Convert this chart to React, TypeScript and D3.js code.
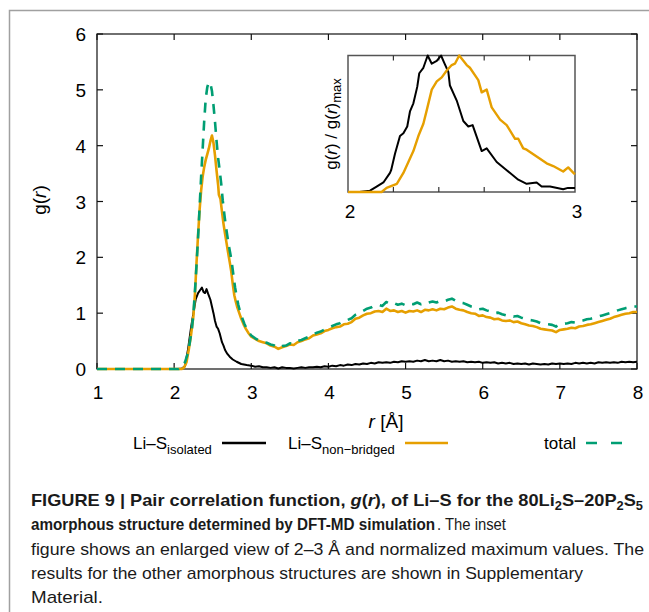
import React from 'react';
import * as d3 from 'd3';

type P = [number, number];

const xTicks = [1, 2, 3, 4, 5, 6, 7, 8];
const yTicks = [0, 1, 2, 3, 4, 5, 6];
const insetTicks = [2.2, 2.4, 2.6, 2.8];
const insetLabels = [2, 3];

const isolated: P[] = [
  [1.0, 0], [2.05, 0], [2.1, 0.01], [2.14, 0.05], [2.18, 0.35], [2.22, 0.75], [2.25, 1.0], [2.28, 1.25],
  [2.31, 1.36], [2.34, 1.42], [2.36, 1.46], [2.38, 1.38], [2.4, 1.36], [2.42, 1.43], [2.44, 1.35], [2.47, 1.24],
  [2.49, 1.12], [2.51, 1.0], [2.53, 0.86], [2.55, 0.76], [2.57, 0.72], [2.59, 0.64], [2.62, 0.48], [2.64, 0.42],
  [2.66, 0.34], [2.69, 0.27], [2.72, 0.22], [2.76, 0.17], [2.81, 0.13], [2.87, 0.09], [2.94, 0.07], [3.0, 0.06],
  [3.05, 0.04], [3.1, 0.05], [3.15, 0.03], [3.2, 0.03], [3.25, 0.02], [3.3, 0.03], [3.35, 0.01], [3.4, 0.03],
  [3.45, 0.02], [3.5, 0.02], [3.55, 0.01], [3.6, 0.02], [3.65, 0.03], [3.7, 0.02], [3.75, 0.03], [3.8, 0.03],
  [3.85, 0.04], [3.9, 0.03], [3.95, 0.05], [4.0, 0.04], [4.05, 0.06], [4.1, 0.05], [4.15, 0.07], [4.2, 0.06],
  [4.25, 0.08], [4.3, 0.07], [4.35, 0.09], [4.4, 0.08], [4.45, 0.10], [4.5, 0.09], [4.55, 0.11], [4.6, 0.10],
  [4.65, 0.12], [4.7, 0.11], [4.75, 0.12], [4.8, 0.11], [4.85, 0.13], [4.9, 0.12], [4.95, 0.14], [5.0, 0.13],
  [5.05, 0.14], [5.1, 0.13], [5.15, 0.15], [5.2, 0.14], [5.25, 0.16], [5.3, 0.14], [5.35, 0.15], [5.4, 0.14],
  [5.45, 0.16], [5.5, 0.14], [5.55, 0.15], [5.6, 0.13], [5.65, 0.14], [5.7, 0.13], [5.75, 0.14], [5.8, 0.12],
  [5.85, 0.13], [5.9, 0.12], [5.95, 0.13], [6.0, 0.11], [6.05, 0.12], [6.1, 0.11], [6.15, 0.12], [6.2, 0.10],
  [6.25, 0.11], [6.3, 0.10], [6.35, 0.11], [6.4, 0.09], [6.45, 0.10], [6.5, 0.09], [6.55, 0.10], [6.6, 0.08],
  [6.65, 0.10], [6.7, 0.09], [6.75, 0.08], [6.8, 0.09], [6.85, 0.08], [6.9, 0.10], [6.95, 0.09], [7.0, 0.10],
  [7.05, 0.09], [7.1, 0.10], [7.15, 0.09], [7.2, 0.11], [7.25, 0.10], [7.3, 0.11], [7.35, 0.10], [7.4, 0.11],
  [7.45, 0.10], [7.5, 0.12], [7.55, 0.11], [7.6, 0.12], [7.65, 0.11], [7.7, 0.12], [7.75, 0.11], [7.8, 0.13],
  [7.85, 0.12], [7.9, 0.13], [7.95, 0.12], [8.0, 0.13],
];

const nonBridged: P[] = [
  [1.0, 0], [2.1, 0], [2.13, 0.03], [2.16, 0.12], [2.19, 0.35], [2.22, 0.62], [2.25, 0.95], [2.27, 1.35],
  [2.29, 1.9], [2.31, 2.4], [2.33, 2.85], [2.35, 3.2], [2.37, 3.45], [2.39, 3.62], [2.41, 3.75], [2.43, 3.85],
  [2.45, 3.95], [2.47, 4.08], [2.49, 4.18], [2.51, 4.05], [2.53, 3.82], [2.55, 3.55], [2.57, 3.3], [2.58, 3.12],
  [2.6, 3.05], [2.62, 2.82], [2.64, 2.6], [2.66, 2.42], [2.68, 2.25], [2.7, 2.08], [2.72, 1.92], [2.74, 1.75],
  [2.76, 1.52], [2.78, 1.32], [2.8, 1.2], [2.82, 1.1], [2.84, 1.02], [2.87, 0.9], [2.9, 0.8], [2.93, 0.72],
  [2.96, 0.65], [3.0, 0.58],
  [3.05, 0.54], [3.1, 0.50], [3.15, 0.48], [3.2, 0.46], [3.25, 0.42], [3.3, 0.40], [3.35, 0.36], [3.4, 0.39],
  [3.45, 0.41], [3.5, 0.44], [3.55, 0.43], [3.6, 0.48], [3.65, 0.50], [3.7, 0.53], [3.75, 0.55], [3.8, 0.60],
  [3.85, 0.62], [3.9, 0.64], [3.95, 0.68], [4.0, 0.70], [4.05, 0.73], [4.1, 0.75], [4.15, 0.76], [4.2, 0.80],
  [4.25, 0.81], [4.3, 0.84], [4.35, 0.90], [4.4, 0.92], [4.45, 0.96], [4.5, 0.99], [4.55, 1.00], [4.6, 1.03],
  [4.65, 1.04], [4.7, 1.02], [4.75, 1.08], [4.8, 1.04], [4.85, 1.05], [4.9, 1.02], [4.95, 1.04], [5.0, 1.01],
  [5.05, 1.04], [5.1, 1.03], [5.15, 1.05], [5.2, 1.02], [5.25, 1.06], [5.3, 1.05], [5.35, 1.07], [5.4, 1.05],
  [5.45, 1.08], [5.5, 1.07], [5.55, 1.10], [5.6, 1.12], [5.65, 1.08], [5.7, 1.06], [5.75, 1.05], [5.8, 1.02],
  [5.85, 1.00], [5.9, 0.99], [5.95, 0.95], [6.0, 0.96], [6.05, 0.93], [6.1, 0.92], [6.15, 0.89], [6.2, 0.90],
  [6.25, 0.87], [6.3, 0.86], [6.35, 0.87], [6.4, 0.84], [6.45, 0.85], [6.5, 0.82], [6.55, 0.80], [6.6, 0.78],
  [6.65, 0.77], [6.7, 0.75], [6.75, 0.72], [6.8, 0.71], [6.85, 0.70], [6.9, 0.69], [6.95, 0.66], [7.0, 0.70],
  [7.05, 0.71], [7.1, 0.72], [7.15, 0.74], [7.2, 0.73], [7.25, 0.76], [7.3, 0.77], [7.35, 0.79], [7.4, 0.80],
  [7.45, 0.82], [7.5, 0.84], [7.55, 0.86], [7.6, 0.88], [7.65, 0.90], [7.7, 0.93], [7.75, 0.95], [7.8, 0.97],
  [7.85, 0.99], [7.9, 1.00], [7.95, 1.02], [8.0, 1.02],
];

const total: P[] = [
  [1.0, 0], [2.06, 0], [2.1, 0.03], [2.14, 0.12], [2.17, 0.25], [2.2, 0.45], [2.23, 0.72], [2.25, 1.0],
  [2.27, 1.4], [2.29, 1.85], [2.31, 2.35], [2.33, 2.9], [2.35, 3.45], [2.37, 3.95], [2.39, 4.45], [2.41, 4.85],
  [2.43, 5.05], [2.45, 5.14], [2.47, 5.12], [2.49, 4.98], [2.51, 4.72], [2.53, 4.42], [2.55, 4.08], [2.57, 3.78],
  [2.59, 3.56], [2.61, 3.32], [2.63, 3.02], [2.65, 2.78], [2.67, 2.56], [2.69, 2.38], [2.71, 2.2], [2.73, 2.05],
  [2.75, 1.88], [2.77, 1.66], [2.79, 1.46], [2.81, 1.3], [2.83, 1.16], [2.85, 1.05], [2.88, 0.92], [2.91, 0.81],
  [2.94, 0.72], [2.97, 0.65], [3.0, 0.6],
  [3.05, 0.55], [3.1, 0.51], [3.15, 0.49], [3.2, 0.47], [3.25, 0.44], [3.3, 0.42], [3.35, 0.38], [3.4, 0.41],
  [3.45, 0.42], [3.5, 0.46], [3.55, 0.45], [3.6, 0.50], [3.65, 0.52], [3.7, 0.55], [3.75, 0.58], [3.8, 0.62],
  [3.85, 0.65], [3.9, 0.67], [3.95, 0.71], [4.0, 0.74], [4.05, 0.77], [4.1, 0.80], [4.15, 0.82], [4.2, 0.86],
  [4.25, 0.88], [4.3, 0.91], [4.35, 0.97], [4.4, 1.00], [4.45, 1.04], [4.5, 1.08], [4.55, 1.10], [4.6, 1.14],
  [4.65, 1.15], [4.7, 1.13], [4.75, 1.20], [4.8, 1.16], [4.85, 1.18], [4.9, 1.15], [4.95, 1.17], [5.0, 1.14],
  [5.05, 1.17], [5.1, 1.16], [5.15, 1.19], [5.2, 1.16], [5.25, 1.20], [5.3, 1.19], [5.35, 1.21], [5.4, 1.19],
  [5.45, 1.22], [5.5, 1.21], [5.55, 1.24], [5.6, 1.26], [5.65, 1.22], [5.7, 1.19], [5.75, 1.18], [5.8, 1.15],
  [5.85, 1.12], [5.9, 1.11], [5.95, 1.07], [6.0, 1.08], [6.05, 1.05], [6.1, 1.03], [6.15, 1.00], [6.2, 1.01],
  [6.25, 0.98], [6.3, 0.96], [6.35, 0.97], [6.4, 0.94], [6.45, 0.95], [6.5, 0.92], [6.55, 0.90], [6.6, 0.88],
  [6.65, 0.87], [6.7, 0.85], [6.75, 0.82], [6.8, 0.81], [6.85, 0.80], [6.9, 0.79], [6.95, 0.76], [7.0, 0.80],
  [7.05, 0.81], [7.1, 0.82], [7.15, 0.84], [7.2, 0.83], [7.25, 0.86], [7.3, 0.87], [7.35, 0.89], [7.4, 0.90],
  [7.45, 0.92], [7.5, 0.94], [7.55, 0.96], [7.6, 0.98], [7.65, 1.00], [7.7, 1.03], [7.75, 1.05], [7.8, 1.07],
  [7.85, 1.09], [7.9, 1.10], [7.95, 1.12], [8.0, 1.12],
];

const insetIsolated: P[] = [
  [2.0, 0.0], [2.05, 0.0], [2.097, 0.01], [2.126, 0.04], [2.156, 0.07], [2.185, 0.14], [2.19, 0.16],
  [2.207, 0.28], [2.229, 0.41], [2.244, 0.43], [2.261, 0.48], [2.273, 0.59], [2.288, 0.65], [2.305, 0.77],
  [2.314, 0.87], [2.332, 0.91], [2.351, 1.0], [2.369, 0.94], [2.391, 0.96], [2.41, 1.0], [2.423, 0.95],
  [2.442, 0.88], [2.449, 0.78], [2.479, 0.67], [2.508, 0.52], [2.53, 0.48], [2.549, 0.49], [2.589, 0.3],
  [2.611, 0.32], [2.655, 0.22], [2.699, 0.16], [2.75, 0.09], [2.787, 0.06], [2.831, 0.07], [2.853, 0.04],
  [2.89, 0.04], [2.948, 0.02], [2.969, 0.03], [3.0, 0.03],
];

const insetNonBridged: P[] = [
  [2.0, 0.0], [2.148, 0.0], [2.17, 0.03], [2.215, 0.06], [2.244, 0.14], [2.266, 0.22], [2.288, 0.3],
  [2.31, 0.41], [2.332, 0.5], [2.347, 0.6], [2.369, 0.75], [2.391, 0.81], [2.413, 0.84], [2.435, 0.89],
  [2.457, 0.93], [2.471, 0.94], [2.49, 1.0], [2.523, 0.93], [2.537, 0.91], [2.574, 0.82], [2.589, 0.73],
  [2.611, 0.75], [2.633, 0.62], [2.67, 0.53], [2.699, 0.49], [2.736, 0.39], [2.75, 0.39], [2.772, 0.32],
  [2.787, 0.31], [2.831, 0.26], [2.875, 0.21], [2.904, 0.19], [2.948, 0.15], [2.97, 0.18], [2.993, 0.14],
  [3.0, 0.13],
];

const BLACK = '#000000';
const ORANGE = '#E69F00';
const GREEN = '#009E73';
const FONT = '"Liberation Sans", Arial, Helvetica, sans-serif';

export default function App() {
  const x = d3.scaleLinear().domain([1, 8]).range([97, 637]);
  const y = d3.scaleLinear().domain([0, 6]).range([369, 34]);
  const ix = d3.scaleLinear().domain([2, 3]).range([348, 575]);
  const iy = d3.scaleLinear().domain([0, 1]).range([192, 55.5]);

  const line = d3.line<P>().x((d) => x(d[0])).y((d) => y(d[1]));
  const iline = d3.line<P>().x((d) => ix(d[0])).y((d) => iy(d[1]));

  const [x0, x1] = x.range();
  const [y0, y1] = y.range();
  const tl = 6;
  const sx2 = 0.88;

  return (
    <svg width={649} height={612} style={{ display: 'block', position: 'absolute', left: 0, top: 0 }} fontFamily={FONT}>
      <rect x={0} y={0} width={649} height={612} fill="#fff" />
      <path d="M9.5,612 L9.5,10.5 L649,10.5" fill="none" stroke="#a0a0a0" strokeWidth={1.5} />

      {/* main axes box */}
      <rect x={x0} y={y1} width={x1 - x0} height={y0 - y1} fill="none" stroke="#111" strokeWidth={1.2} />
      {xTicks.map((t) => (
        <g key={'xt' + t}>
          <line x1={x(t)} x2={x(t)} y1={y0} y2={y0 - tl} stroke="#111" strokeWidth={1.2} />
          <line x1={x(t)} x2={x(t)} y1={y1} y2={y1 + tl} stroke="#111" strokeWidth={1.2} />
          <text x={x(t) + 1} y={y0 + 30} fontSize={19} textAnchor="middle" fill="#000">{t}</text>
        </g>
      ))}
      {yTicks.map((t) => (
        <g key={'yt' + t}>
          <line x1={x0} x2={x0 + tl} y1={y(t)} y2={y(t)} stroke="#111" strokeWidth={1.2} />
          <line x1={x1} x2={x1 - tl} y1={y(t)} y2={y(t)} stroke="#111" strokeWidth={1.2} />
          <text x={86} y={y(t) + 7} fontSize={19} textAnchor="end" fill="#000">{t}</text>
        </g>
      ))}

      {/* main curves */}
      <path d={line(isolated) || ''} fill="none" stroke={BLACK} strokeWidth={2} strokeLinejoin="round" />
      <path d={line(nonBridged) || ''} fill="none" stroke={ORANGE} strokeWidth={2.6} strokeLinejoin="round" />
      <path d={line(total) || ''} fill="none" stroke={GREEN} strokeWidth={2.6} strokeDasharray="10,8" strokeLinejoin="round" />

      {/* axis labels */}
      <text transform="translate(46,200) rotate(-90)" fontSize={19} textAnchor="middle" fill="#000">
        g(<tspan fontStyle="italic">r</tspan>)
      </text>
      <text x={386} y={428} fontSize={19} textAnchor="middle" fill="#000">
        <tspan fontStyle="italic">r</tspan>  [Å]
      </text>

      {/* inset */}
      <rect x={ix(2)} y={iy(1)} width={ix(3) - ix(2)} height={iy(0) - iy(1)} fill="#fff" stroke="#555" strokeWidth={1.5} />
      {insetTicks.map((t) => (
        <g key={'it' + t}>
          <line x1={ix(t)} x2={ix(t)} y1={iy(0)} y2={iy(0) - 5} stroke="#333" strokeWidth={1.2} />
          <line x1={ix(t)} x2={ix(t)} y1={iy(1)} y2={iy(1) + 5} stroke="#333" strokeWidth={1.2} />
        </g>
      ))}
      {insetLabels.map((t) => (
        <text key={'il' + t} x={ix(t) + 2} y={218} fontSize={19} textAnchor="middle" fill="#000">{t}</text>
      ))}
      <path d={iline(insetIsolated) || ''} fill="none" stroke={BLACK} strokeWidth={2} strokeLinejoin="round" />
      <path d={iline(insetNonBridged) || ''} fill="none" stroke={ORANGE} strokeWidth={2.4} strokeLinejoin="round" />
      <text transform="translate(337,124) rotate(-90)" fontSize={17} textAnchor="middle" fill="#000">
        g(<tspan fontStyle="italic">r</tspan>) / g(<tspan fontStyle="italic">r</tspan>)<tspan fontSize={13} dy={4}>max</tspan>
      </text>

      {/* legend */}
      <text x={133} y={449} fontSize={17} fill="#000">
        Li–S<tspan fontSize={13} dy={5}>isolated</tspan>
      </text>
      <line x1={222} x2={266} y1={443} y2={443} stroke={BLACK} strokeWidth={2.4} />
      <text x={288} y={449} fontSize={17} fill="#000">
        Li–S<tspan fontSize={13} dy={5}>non−bridged</tspan>
      </text>
      <line x1={405} x2={448} y1={443} y2={443} stroke={ORANGE} strokeWidth={2.6} />
      <text x={544} y={449} fontSize={17} fill="#000">total</text>
      <line x1={586} x2={622} y1={443} y2={443} stroke={GREEN} strokeWidth={2.6} strokeDasharray="11,14" />

      {/* caption */}
      <g fontSize={17} fill="#1a1a1a">
        <text x={31} y={506} fontWeight="bold" textLength={612} lengthAdjust="spacingAndGlyphs">
          FIGURE 9 | Pair correlation function, <tspan fontStyle="italic">g</tspan>(<tspan fontStyle="italic">r</tspan>), of Li–S for the 80Li<tspan fontSize={12} dy={4}>2</tspan><tspan dy={-4}>S–20P</tspan><tspan fontSize={12} dy={4}>2</tspan><tspan dy={-4}>S</tspan><tspan fontSize={12} dy={4}>5</tspan>
        </text>
        <text transform={`translate(31,530) scale(${sx2},1)`} fontWeight="bold" textLength={404 / sx2} lengthAdjust="spacingAndGlyphs">
          amorphous structure determined by DFT-MD simulation
        </text>
        <text x={437} y={530} textLength={69} lengthAdjust="spacingAndGlyphs">. The inset</text>
        <text x={31} y={555} textLength={613} lengthAdjust="spacingAndGlyphs">
          figure shows an enlarged view of 2–3 Å and normalized maximum values. The
        </text>
        <text x={31} y={579} textLength={552} lengthAdjust="spacingAndGlyphs">
          results for the other amorphous structures are shown in Supplementary
        </text>
        <text x={31} y={603} textLength={72} lengthAdjust="spacingAndGlyphs">
          Material.
        </text>
      </g>
    </svg>
  );
}
